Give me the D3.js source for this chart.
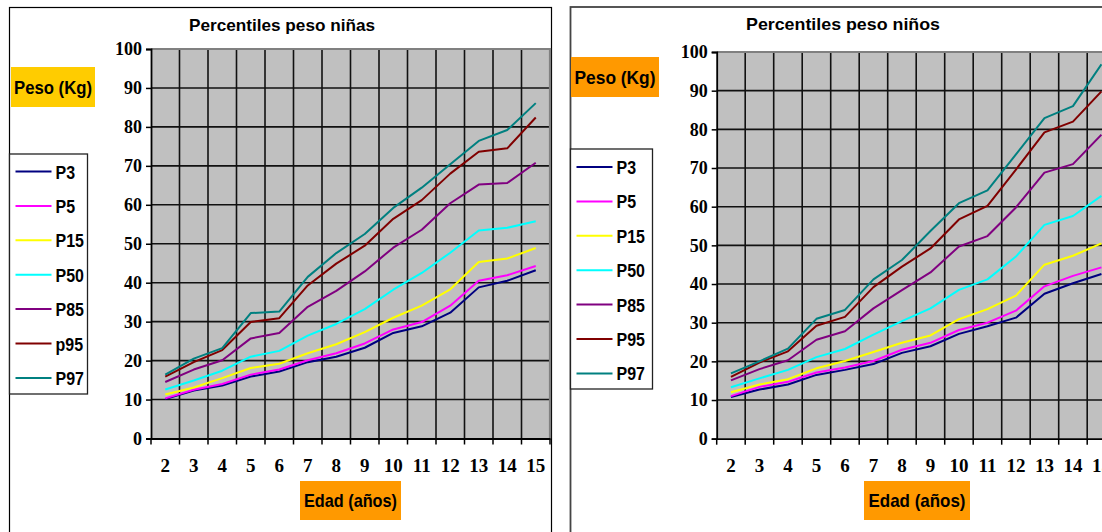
<!DOCTYPE html>
<html><head><meta charset="utf-8">
<script src="https://cdn.jsdelivr.net/npm/d3@7"></script>
<style>
html,body{margin:0;padding:0;background:#fff;}
svg{display:block;}
</style></head>
<body>
<script>
// ---- data ----
const ages = ["2","3","4","5","6","7","8","9","10","11","12","13","14","15"];
const yTicks = [0,10,20,30,40,50,60,70,80,90,100];
const girlsNames = ["P3","P5","P15","P50","P85","p95","P97"];
const boysNames  = ["P3","P5","P15","P50","P85","P95","P97"];

const girlsP3  = [10.1,12.3,13.6,15.9,17.2,19.6,21.0,23.3,27.1,28.8,32.3,38.8,40.5,43.2];
const girlsP5  = [10.3,12.5,14.0,16.4,17.7,20.1,21.9,24.4,28.0,29.9,34.1,40.5,41.9,44.3];
const girlsP15 = [11.3,13.1,15.5,18.1,19.2,21.9,24.2,27.3,31.0,34.1,38.3,45.3,46.2,48.9];
const girlsP50 = [12.6,14.9,17.4,21.0,22.5,26.4,29.4,33.2,38.2,42.5,47.7,53.4,54.1,55.8];
const girlsP85 = [14.5,17.7,20.1,25.7,27.1,33.8,37.9,42.9,49.0,53.6,60.4,65.2,65.6,70.8];
const girlsP95 = [15.9,19.6,22.7,29.9,30.9,39.3,44.9,49.5,56.4,61.2,68.0,73.6,74.5,82.4];
const girlsP97 = [16.4,20.5,23.2,32.2,32.6,41.5,47.6,52.5,59.2,64.4,70.4,76.4,79.2,86.1];

const boysP3  = [10.8,12.7,14.0,16.5,17.8,19.3,22.2,23.9,27.1,29.1,31.3,37.5,40.2,42.6];
const boysP5  = [11.0,13.4,14.7,17.1,18.4,20.1,23.0,24.8,28.1,30.0,33.1,39.4,42.1,44.3];
const boysP15 = [12.0,14.0,15.4,18.2,20.1,22.4,24.8,26.7,30.9,33.5,37.0,45.0,47.3,50.5];
const boysP50 = [13.3,15.6,17.8,21.1,23.2,26.9,30.4,33.7,38.5,41.2,47.1,55.3,57.6,62.8];
const boysP85 = [15.1,18.0,20.3,25.6,27.8,33.7,38.4,43.0,49.7,52.4,59.8,68.8,71.0,78.6];
const boysP95 = [16.0,19.7,22.6,29.2,31.5,39.2,44.5,49.2,56.7,60.2,69.6,79.2,82.0,89.8];
const boysP97 = [16.9,20.0,23.3,31.0,33.3,41.2,46.2,53.7,60.9,64.2,73.5,82.9,86.0,96.8];

const girlsSeries = [girlsP3,girlsP5,girlsP15,girlsP50,girlsP85,girlsP95,girlsP97];
const boysSeries  = [boysP3,boysP5,boysP15,boysP50,boysP85,boysP95,boysP97];
const lineColors = ["#000080","#FF00FF","#FFFF00","#00FFFF","#800080","#800000","#008080"];

// ---- drawing ----
const svg = d3.select("body").append("svg").attr("width",1102).attr("height",532);
const SANS = "'Liberation Sans', Arial, Helvetica, sans-serif";
const SERIF = "'Liberation Serif', 'Times New Roman', Times, serif";

function fitText(sel, len){
  sel.attr("textLength", len).attr("lengthAdjust","spacingAndGlyphs");
}

function drawChart(o){
  const g = svg.append("g");
  // outer frame
  g.append("rect").attr("x",o.fx).attr("y",o.fy).attr("width",o.fw).attr("height",560)
    .attr("fill","#fff").attr("stroke",o.frameColor).attr("stroke-width",o.frameW);

  const x = d3.scaleBand().domain(ages).range([o.pl,o.pr]).paddingInner(0).paddingOuter(0);
  const y = d3.scaleLinear().domain([0,100]).range([o.pb,o.pt]);

  // plot area
  g.append("rect").attr("x",o.pl).attr("y",o.pt).attr("width",o.pr-o.pl).attr("height",o.pb-o.pt)
    .attr("fill","#C0C0C0");
  // horizontal grid
  g.append("g").selectAll("line").data(yTicks.filter(v=>v>0 && v<100)).join("line")
    .attr("x1",o.pl).attr("x2",o.pr).attr("y1",d=>y(d)).attr("y2",d=>y(d))
    .attr("stroke","#111").attr("stroke-width",1.6);
  // vertical grid at band boundaries
  const bounds = ages.slice(1).map(a=>x(a));
  g.append("g").selectAll("line").data(bounds).join("line")
    .attr("x1",d=>d).attr("x2",d=>d).attr("y1",o.pt).attr("y2",o.pb)
    .attr("stroke","#111").attr("stroke-width",1.6);
  // top/right border
  g.append("path").attr("d",`M${o.pl},${o.pt}H${o.pr}V${o.pb}`)
    .attr("fill","none").attr("stroke","#808080").attr("stroke-width",2.2);

  // y axis
  const ya = g.append("g").attr("transform",`translate(${o.pl},0)`)
    .call(d3.axisLeft(y).tickValues(yTicks).tickSize(5).tickPadding(4).tickFormat(d3.format("d")));
  ya.select(".domain").attr("stroke","#000").attr("stroke-width",1.8);
  ya.selectAll(".tick line").attr("stroke","#000").attr("stroke-width",1.5);
  ya.selectAll("text").attr("font-family",SERIF).attr("font-weight","bold")
    .attr("font-size","18px").attr("fill","#000");

  // x axis
  const xa = g.append("g").attr("transform",`translate(0,${o.pb})`)
    .call(d3.axisBottom(x).tickSize(0).tickPadding(20));
  xa.select(".domain").attr("stroke","#000").attr("stroke-width",1.8);
  xa.selectAll("text").attr("font-family",SERIF).attr("font-weight","bold")
    .attr("font-size","19px").attr("fill","#000");
  g.append("g").selectAll("line").data(ages.map(a=>x(a)).concat([o.pr])).join("line")
    .attr("x1",d=>d).attr("x2",d=>d).attr("y1",o.pb).attr("y2",o.pb+6)
    .attr("stroke","#000").attr("stroke-width",1.5);

  // series lines
  const line = d3.line().x((d,i)=>x(ages[i])+x.bandwidth()/2).y(d=>y(d));
  g.append("g").selectAll("path").data(o.series).join("path")
    .attr("d",d=>line(d)).attr("fill","none")
    .attr("stroke",(d,i)=>lineColors[i]).attr("stroke-width",2)
    .attr("stroke-linejoin","round");

  // title
  g.append("text").attr("x",o.titleX).attr("y",o.titleY).attr("text-anchor","middle")
    .attr("font-family",SANS).attr("font-weight","bold").attr("font-size","17px")
    .text(o.title).call(fitText,o.titleLen);

  // Peso box
  g.append("rect").attr("x",o.pesoX).attr("y",o.pesoY).attr("width",o.pesoW).attr("height",40)
    .attr("fill",o.pesoColor);
  g.append("text").attr("x",o.pesoX+o.pesoW/2).attr("y",o.pesoY+27).attr("text-anchor","middle")
    .attr("font-family",SANS).attr("font-weight","bold").attr("font-size","19px")
    .text("Peso (Kg)").call(fitText,o.pesoLen);

  // Edad box
  g.append("rect").attr("x",o.edadX).attr("y",481).attr("width",o.edadW).attr("height",39)
    .attr("fill","#FF9900");
  g.append("text").attr("x",o.edadX+o.edadW/2).attr("y",507).attr("text-anchor","middle")
    .attr("font-family",SANS).attr("font-weight","bold").attr("font-size","19px")
    .text("Edad (años)").call(fitText,o.edadLen);

  // legend
  const lg = g.append("g");
  lg.append("rect").attr("x",o.lx).attr("y",o.ly).attr("width",o.lw).attr("height",o.lh)
    .attr("fill","#fff").attr("stroke","#222").attr("stroke-width",1.3);
  const items = lg.selectAll("g.item").data(o.names).join("g").attr("class","item")
    .attr("transform",(d,i)=>`translate(0,${o.ly+o.l0+i*34.4})`);
  items.append("line").attr("x1",o.lx+6).attr("x2",o.lx+42).attr("y1",0).attr("y2",0)
    .attr("stroke",(d,i)=>lineColors[i]).attr("stroke-width",2);
  items.append("text").attr("x",o.lx+46).attr("y",7)
    .attr("font-family",SANS).attr("font-weight","bold").attr("font-size","19px")
    .text(d=>d)
    .each(function(){ const w=this.getComputedTextLength(); this.setAttribute("textLength", w*0.84); this.setAttribute("lengthAdjust","spacingAndGlyphs"); });
}

drawChart({
  fx:9.5, fy:7.5, fw:542, frameColor:"#000", frameW:1.2,
  pl:151, pr:550, pt:49, pb:438.5,
  series:girlsSeries, names:girlsNames,
  title:"Percentiles peso niñas", titleX:282, titleY:31, titleLen:186,
  pesoX:11, pesoY:67, pesoW:84, pesoColor:"#FFCC00", pesoLen:78,
  edadX:300, edadW:101, edadLen:93,
  lx:9.5, ly:154, lw:78, lh:240, l0:17.5
});
drawChart({
  fx:570.5, fy:7, fw:560, frameColor:"#444", frameW:1.8,
  pl:716.7, pr:1115.7, pt:52, pb:438.7,
  series:boysSeries, names:boysNames,
  title:"Percentiles peso niños", titleX:843, titleY:30, titleLen:194,
  pesoX:571, pesoY:57, pesoW:88, pesoColor:"#FF9900", pesoLen:81,
  edadX:864, edadW:106, edadLen:97,
  lx:570.5, ly:149, lw:82, lh:240, l0:18
});
</script>
</body></html>
